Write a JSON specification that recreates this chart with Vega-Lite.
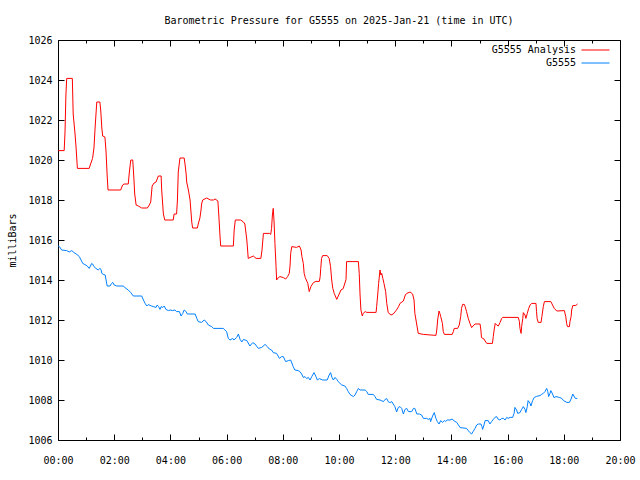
{
  "$schema": "https://vega.github.io/schema/vega-lite/v6.json",
  "width": 562,
  "height": 400,
  "autosize": {"type": "none"},
  "padding": {"left": 58, "top": 40, "right": 20, "bottom": 40},
  "background": "white",
  "config": {"view": {"stroke": null}, "font": "DejaVu Sans Mono"},
  "title": {"text": "Barometric Pressure for G5555 on 2025-Jan-21 (time in UTC)", "font": "DejaVu Sans Mono", "fontSize": 10, "fontWeight": "normal", "color": "black", "anchor": "middle", "offset": 9},
  "datasets": {
    "red": [
      [0.01,1020.47],[0.22,1020.47],[0.25,1021.4],[0.28,1023.2],[0.31,1024.08],[0.51,1024.08],[0.52,1023.5],[0.54,1022.3],[0.60,1021.4],[0.64,1020.7],[0.69,1019.58],[1.11,1019.58],[1.16,1019.8],[1.23,1020.08],[1.28,1020.6],[1.32,1021.6],[1.38,1022.9],[1.49,1022.9],[1.52,1022.5],[1.56,1021.6],[1.59,1021.2],[1.67,1021.15],[1.71,1020.4],[1.75,1019.2],[1.78,1018.5],[2.23,1018.5],[2.30,1018.75],[2.35,1018.8],[2.50,1018.8],[2.54,1019.4],[2.59,1020.0],[2.66,1020.0],[2.70,1019.1],[2.73,1018.3],[2.78,1017.75],[2.86,1017.7],[2.98,1017.6],[3.18,1017.6],[3.25,1017.75],[3.30,1017.9],[3.35,1018.7],[3.42,1018.85],[3.49,1018.9],[3.57,1019.2],[3.67,1019.2],[3.69,1018.5],[3.75,1017.3],[3.80,1017.0],[4.10,1017.0],[4.13,1017.3],[4.22,1017.3],[4.25,1018.0],[4.28,1019.4],[4.34,1020.1],[4.49,1020.1],[4.52,1019.8],[4.56,1019.3],[4.58,1018.9],[4.64,1018.5],[4.70,1018.0],[4.76,1016.9],[4.79,1016.6],[4.96,1016.6],[4.99,1016.8],[5.05,1017.1],[5.09,1017.5],[5.11,1017.8],[5.15,1018.0],[5.29,1018.1],[5.43,1018.0],[5.53,1018.0],[5.59,1018.05],[5.69,1017.95],[5.72,1017.3],[5.77,1016.1],[5.79,1015.7],[6.24,1015.7],[6.27,1016.5],[6.31,1017.0],[6.50,1017.0],[6.60,1016.9],[6.65,1016.8],[6.72,1016.0],[6.77,1015.08],[6.95,1015.2],[7.05,1015.08],[7.22,1015.08],[7.26,1015.5],[7.31,1016.33],[7.52,1016.33],[7.57,1016.28],[7.60,1016.58],[7.63,1017.25],[7.66,1017.58],[7.69,1016.9],[7.72,1015.83],[7.76,1014.67],[7.78,1014.0],[7.84,1014.12],[7.90,1014.17],[8.02,1014.12],[8.10,1014.05],[8.17,1014.17],[8.23,1014.33],[8.26,1014.75],[8.28,1015.33],[8.32,1015.67],[8.49,1015.63],[8.59,1015.7],[8.65,1015.5],[8.68,1015.17],[8.73,1014.83],[8.76,1014.33],[8.80,1014.12],[8.89,1013.83],[8.94,1013.42],[9.00,1013.67],[9.09,1013.87],[9.18,1013.93],[9.30,1013.93],[9.33,1014.17],[9.35,1014.58],[9.38,1015.08],[9.42,1015.22],[9.58,1015.22],[9.65,1015.08],[9.70,1014.67],[9.74,1014.0],[9.78,1013.58],[9.83,1013.33],[9.92,1013.03],[9.99,1013.25],[10.07,1013.5],[10.15,1013.57],[10.25,1014.03],[10.27,1014.92],[10.69,1014.92],[10.72,1014.33],[10.75,1013.25],[10.78,1012.5],[10.83,1012.2],[10.86,1012.33],[10.93,1012.42],[10.99,1012.38],[11.32,1012.38],[11.34,1012.67],[11.38,1013.3],[11.41,1013.83],[11.46,1014.5],[11.49,1014.25],[11.52,1014.33],[11.56,1014.08],[11.60,1013.83],[11.66,1013.42],[11.70,1012.83],[11.75,1012.37],[11.85,1012.25],[11.93,1012.3],[12.03,1012.47],[12.12,1012.67],[12.17,1012.83],[12.29,1012.95],[12.36,1013.25],[12.41,1013.33],[12.53,1013.4],[12.62,1013.3],[12.67,1013.0],[12.70,1012.33],[12.77,1011.75],[12.82,1011.33],[13.00,1011.28],[13.45,1011.23],[13.48,1011.5],[13.51,1012.0],[13.56,1012.45],[13.59,1012.33],[13.62,1012.17],[13.68,1011.83],[13.71,1011.42],[13.75,1011.28],[14.03,1011.28],[14.07,1011.42],[14.10,1011.58],[14.22,1011.58],[14.28,1011.75],[14.33,1012.17],[14.36,1012.58],[14.40,1012.78],[14.46,1012.78],[14.49,1012.67],[14.54,1012.42],[14.60,1012.08],[14.66,1011.83],[14.72,1011.62],[14.77,1011.7],[14.84,1011.8],[15.02,1011.8],[15.05,1011.5],[15.07,1011.12],[15.16,1011.05],[15.20,1010.95],[15.26,1010.83],[15.46,1010.83],[15.49,1011.17],[15.52,1011.5],[15.56,1011.83],[15.61,1011.75],[15.67,1011.7],[15.73,1011.87],[15.79,1012.08],[15.82,1012.13],[16.38,1012.13],[16.42,1011.92],[16.44,1011.58],[16.48,1011.33],[16.50,1011.67],[16.54,1012.08],[16.56,1012.37],[16.62,1012.25],[16.65,1012.08],[16.70,1012.33],[16.75,1012.58],[16.80,1012.75],[16.86,1012.83],[17.01,1012.83],[17.03,1012.42],[17.05,1012.08],[17.09,1011.88],[17.19,1011.88],[17.22,1012.17],[17.27,1012.67],[17.31,1012.92],[17.54,1012.92],[17.60,1012.75],[17.66,1012.58],[17.75,1012.45],[18.02,1012.47],[18.07,1012.17],[18.10,1011.83],[18.13,1011.67],[18.20,1011.67],[18.22,1011.92],[18.26,1012.17],[18.28,1012.5],[18.32,1012.72],[18.43,1012.73],[18.49,1012.8]
    ],
    "blue": [
      [0.01,1015.7],[0.05,1015.67],[0.13,1015.5],[0.31,1015.47],[0.40,1015.4],[0.49,1015.47],[0.57,1015.37],[0.67,1015.28],[0.76,1015.17],[0.82,1015.0],[0.88,1014.83],[0.96,1014.77],[1.04,1014.7],[1.11,1014.58],[1.20,1014.83],[1.23,1014.8],[1.28,1014.67],[1.35,1014.58],[1.43,1014.5],[1.49,1014.58],[1.53,1014.53],[1.56,1014.33],[1.61,1014.28],[1.68,1014.25],[1.71,1014.0],[1.75,1013.7],[1.85,1013.7],[1.91,1013.83],[1.95,1013.88],[2.00,1013.75],[2.09,1013.7],[2.32,1013.7],[2.42,1013.58],[2.50,1013.5],[2.59,1013.37],[2.68,1013.2],[2.98,1013.2],[3.04,1013.0],[3.10,1012.83],[3.16,1012.7],[3.21,1012.77],[3.33,1012.7],[3.39,1012.67],[3.49,1012.63],[3.53,1012.75],[3.58,1012.67],[3.63,1012.53],[3.67,1012.67],[3.73,1012.63],[3.78,1012.7],[3.84,1012.53],[3.93,1012.47],[3.99,1012.5],[4.08,1012.47],[4.16,1012.5],[4.22,1012.42],[4.32,1012.42],[4.38,1012.2],[4.44,1012.33],[4.49,1012.5],[4.56,1012.42],[4.60,1012.3],[4.88,1012.3],[4.94,1012.08],[4.99,1011.92],[5.11,1011.88],[5.20,1012.0],[5.27,1011.92],[5.35,1011.75],[5.47,1011.67],[5.53,1011.58],[5.88,1011.58],[5.94,1011.5],[6.00,1011.42],[6.06,1011.08],[6.12,1011.0],[6.22,1011.08],[6.26,1011.0],[6.36,1011.13],[6.42,1011.3],[6.48,1011.03],[6.54,1010.9],[6.60,1011.03],[6.72,1010.97],[6.83,1010.7],[6.93,1010.87],[7.01,1010.8],[7.13,1010.58],[7.25,1010.63],[7.37,1010.78],[7.45,1010.67],[7.52,1010.55],[7.60,1010.5],[7.66,1010.37],[7.78,1010.33],[7.88,1010.08],[7.96,1010.17],[8.02,1010.17],[8.10,1009.92],[8.20,1009.97],[8.28,1010.0],[8.37,1009.67],[8.43,1009.5],[8.55,1009.47],[8.61,1009.42],[8.67,1009.3],[8.73,1009.13],[8.79,1009.17],[8.85,1009.07],[8.91,1009.13],[8.97,1009.0],[9.03,1009.17],[9.11,1009.37],[9.18,1009.17],[9.23,1009.0],[9.30,1009.07],[9.42,1009.0],[9.58,1009.0],[9.65,1009.25],[9.70,1009.37],[9.75,1009.13],[9.80,1009.0],[9.86,1009.13],[9.92,1009.03],[9.97,1008.92],[10.10,1008.75],[10.21,1008.7],[10.27,1008.58],[10.33,1008.42],[10.39,1008.28],[10.51,1008.17],[10.57,1008.25],[10.63,1008.42],[10.69,1008.58],[10.75,1008.5],[10.93,1008.5],[10.99,1008.42],[11.04,1008.28],[11.22,1008.28],[11.28,1008.17],[11.34,1008.03],[11.46,1008.0],[11.58,1007.92],[11.64,1008.03],[11.70,1008.07],[11.75,1007.92],[11.81,1007.87],[11.88,1007.92],[11.93,1007.8],[11.99,1007.67],[12.05,1007.4],[12.11,1007.63],[12.17,1007.67],[12.23,1007.58],[12.29,1007.3],[12.35,1007.53],[12.41,1007.58],[12.47,1007.42],[12.59,1007.42],[12.65,1007.58],[12.70,1007.58],[12.77,1007.3],[12.86,1007.3],[12.94,1007.25],[13.00,1007.08],[13.12,1007.08],[13.18,1007.03],[13.24,1007.08],[13.26,1006.92],[13.33,1007.2],[13.39,1007.37],[13.45,1007.08],[13.50,1006.92],[13.56,1006.8],[13.62,1006.97],[13.68,1006.88],[13.75,1006.97],[13.80,1006.93],[13.85,1007.0],[13.95,1007.0],[14.03,1007.05],[14.10,1006.95],[14.19,1006.88],[14.25,1006.75],[14.31,1006.62],[14.54,1006.58],[14.60,1006.47],[14.66,1006.37],[14.72,1006.3],[14.77,1006.42],[14.84,1006.58],[14.90,1006.75],[14.96,1006.8],[15.05,1006.8],[15.09,1006.67],[15.11,1006.53],[15.16,1006.75],[15.20,1006.97],[15.31,1006.97],[15.37,1006.8],[15.43,1006.92],[15.49,1007.03],[15.55,1007.13],[15.61,1007.17],[15.67,1007.03],[15.73,1007.0],[15.79,1007.08],[15.85,1007.08],[15.91,1007.0],[15.97,1007.13],[16.02,1007.08],[16.09,1007.13],[16.18,1007.13],[16.23,1007.33],[16.26,1007.63],[16.32,1007.5],[16.36,1007.33],[16.44,1007.37],[16.50,1007.53],[16.56,1007.67],[16.62,1007.53],[16.65,1007.37],[16.70,1007.67],[16.73,1007.97],[16.80,1007.83],[16.83,1007.7],[16.89,1007.97],[16.95,1008.13],[17.03,1008.18],[17.15,1008.22],[17.21,1008.28],[17.27,1008.33],[17.33,1008.42],[17.39,1008.58],[17.43,1008.42],[17.46,1008.17],[17.51,1008.33],[17.54,1008.47],[17.60,1008.3],[17.65,1008.12],[17.72,1008.17],[17.84,1008.13],[17.93,1008.08],[17.99,1007.97],[18.11,1007.88],[18.20,1007.88],[18.26,1008.05],[18.32,1008.3],[18.36,1008.2],[18.41,1008.08],[18.48,1008.08]
    ]
  },
  "layer": [
    {
      "data": {"name": "red"},
      "transform": [{"calculate": "'G5555 Analysis'", "as": "s"}, {"calculate": "datum[0]", "as": "t"}, {"calculate": "datum[1]", "as": "p"}],
      "mark": {"type": "line", "strokeWidth": 1},
      "encoding": {
        "x": {"field": "t", "type": "quantitative", "scale": {"domain": [0, 20], "nice": false},
          "axis": {"orient": "bottom", "values": [0,1,2,3,4,5,6,7,8,9,10,11,12,13,14,15,16,17,18,19,20],
            "labelExpr": "datum.value % 2 === 0 ? (datum.value < 10 ? '0' : '') + datum.value + ':00' : ''",
            "tickSize": {"condition": {"test": "datum.value % 2 === 0", "value": -6}, "value": -3},
            "labelPadding": 21, "labelBaseline": "top", "labelFlush": false, "labelOverlap": false,
            "title": null, "grid": false, "domainColor": "black", "tickColor": "black", "labelColor": "black",
            "labelFont": "DejaVu Sans Mono", "labelFontSize": 10}},
        "y": {"field": "p", "type": "quantitative", "scale": {"domain": [1006, 1026], "nice": false, "zero": false},
          "axis": {"orient": "left", "values": [1006,1008,1010,1012,1014,1016,1018,1020,1022,1024,1026], "format": "d",
            "tickSize": -6, "labelPadding": 12, "labelFlush": false, "labelOverlap": false, "grid": false,
            "domainColor": "black", "tickColor": "black", "labelColor": "black",
            "labelFont": "DejaVu Sans Mono", "labelFontSize": 10,
            "title": "milliBars", "titleFont": "DejaVu Sans Mono", "titleFontSize": 10, "titleFontWeight": "normal", "titleColor": "black",
            "titleX": -46, "titleY": 200, "titleAngle": -90, "titleAlign": "center", "titleBaseline": "middle"}},
        "color": {"field": "s", "type": "nominal",
          "scale": {"domain": ["G5555 Analysis", "G5555"], "range": ["#ff0000", "#0080ff"]},
          "legend": {"orient": "none", "legendX": 532, "legendY": 4.5, "title": null, "symbolType": "M-2.8,0H2.8",
            "symbolSize": 100, "symbolStrokeWidth": 1, "labelAlign": "right", "labelOffset": -25,
            "labelFont": "DejaVu Sans Mono", "labelFontSize": 10, "labelColor": "black", "rowPadding": 2, "padding": 0}}
      }
    },
    {
      "data": {"name": "blue"},
      "transform": [{"calculate": "'G5555'", "as": "s"}, {"calculate": "datum[0]", "as": "t"}, {"calculate": "datum[1]", "as": "p"}],
      "mark": {"type": "line", "strokeWidth": 1},
      "encoding": {
        "x": {"field": "t", "type": "quantitative",
          "axis": {"orient": "top", "values": [0,1,2,3,4,5,6,7,8,9,10,11,12,13,14,15,16,17,18,19,20], "labels": false,
            "tickSize": {"condition": {"test": "datum.value % 2 === 0", "value": -6}, "value": -3},
            "title": null, "grid": false, "domainColor": "black", "tickColor": "black"}},
        "y": {"field": "p", "type": "quantitative",
          "axis": {"orient": "right", "values": [1006,1008,1010,1012,1014,1016,1018,1020,1022,1024,1026], "labels": false,
            "tickSize": -6, "title": null, "grid": false, "domainColor": "black", "tickColor": "black"}},
        "color": {"field": "s", "type": "nominal"}
      }
    }
  ],
  "resolve": {"axis": {"x": "independent", "y": "independent"}}
}
